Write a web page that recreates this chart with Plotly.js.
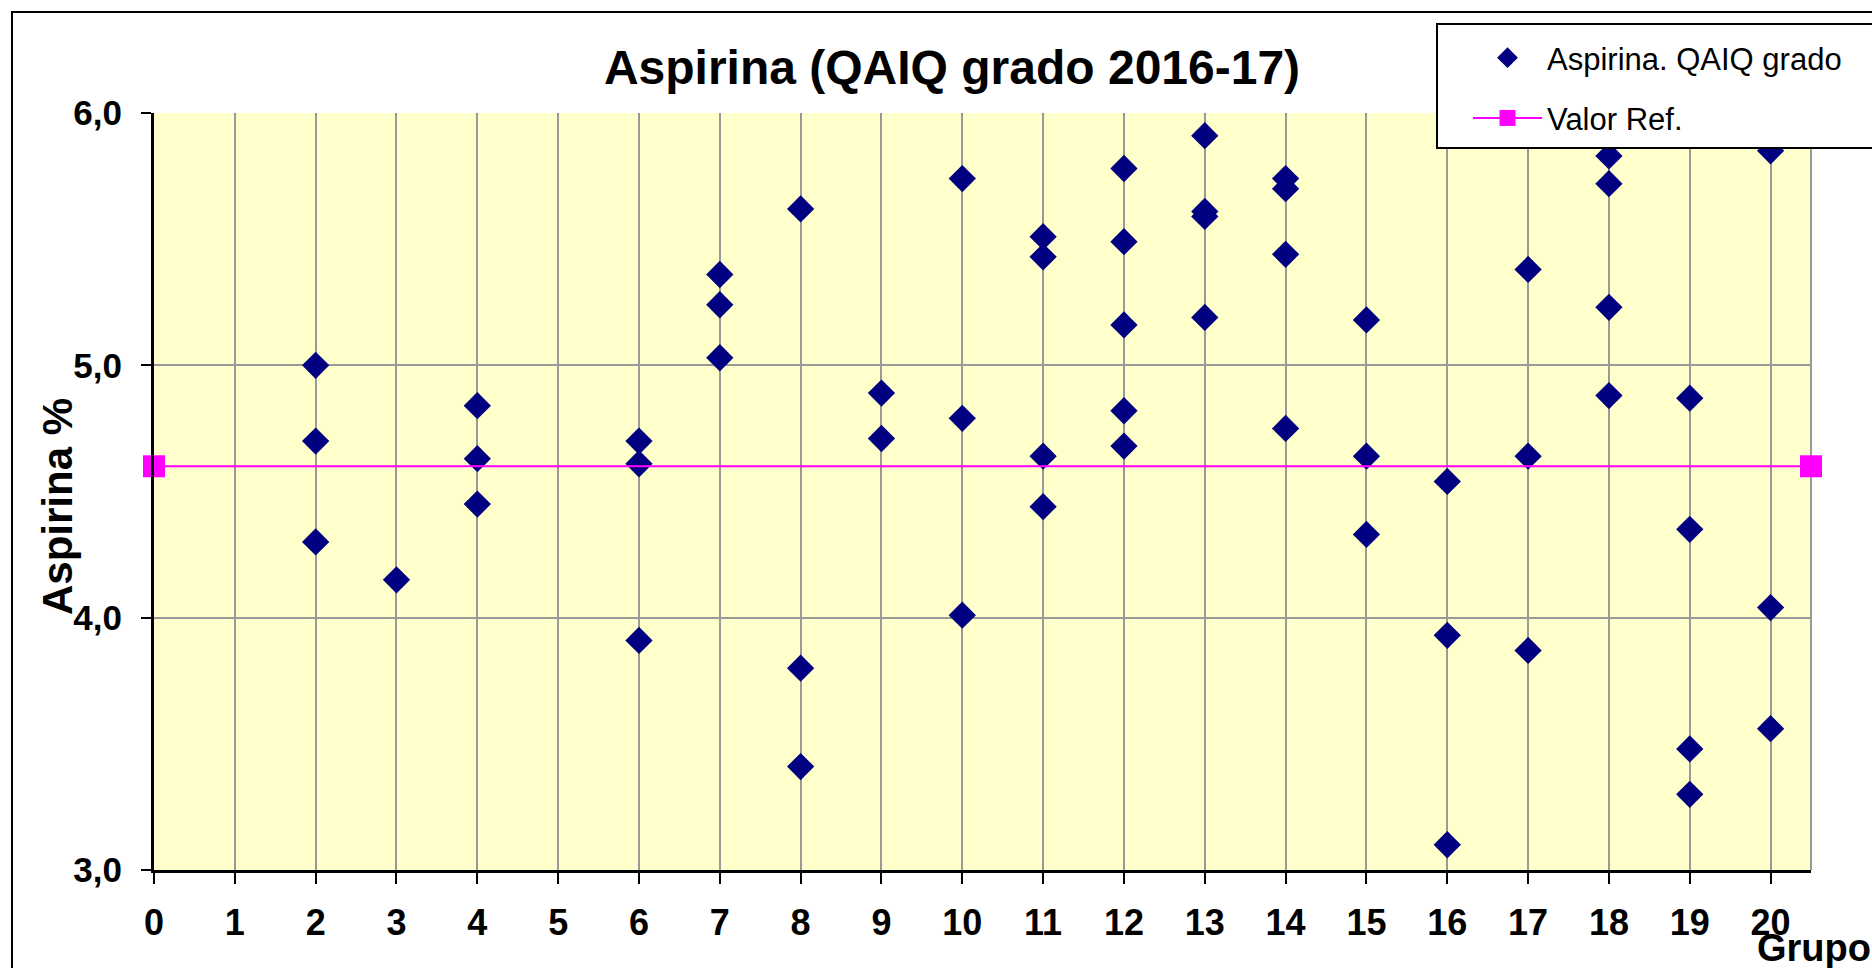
<!DOCTYPE html>
<html>
<head>
<meta charset="utf-8">
<script src="https://cdn.plot.ly/plotly-3.0.1.min.js"></script>
<style>
  html, body { margin: 0; padding: 0; background: #ffffff; }
  #chart { width: 1872px; height: 968px; }
</style>
</head>
<body>
<div id="chart"></div>
<script>
// Group number (x) for each laboratory result
var grupo = [
  2, 2, 2,
  3,
  4, 4, 4,
  6, 6, 6,
  7, 7, 7,
  8, 8, 8,
  9, 9,
  10, 10, 10,
  11, 11, 11, 11,
  12, 12, 12, 12, 12,
  13, 13, 13, 13,
  14, 14, 14, 14,
  15, 15, 15,
  16, 16, 16,
  17, 17, 17,
  18, 18, 18, 18,
  19, 19, 19, 19,
  20, 20, 20
];
// Aspirina % result for each point
var aspirina = [
  5.00, 4.70, 4.30,
  4.15,
  4.84, 4.63, 4.45,
  4.70, 4.61, 3.91,
  5.36, 5.24, 5.03,
  5.62, 3.80, 3.41,
  4.89, 4.71,
  5.74, 4.79, 4.01,
  5.51, 5.43, 4.64, 4.44,
  5.78, 5.49, 5.16, 4.82, 4.68,
  5.91, 5.61, 5.59, 5.19,
  5.74, 5.70, 5.44, 4.75,
  5.18, 4.64, 4.33,
  4.54, 3.93, 3.10,
  5.38, 4.64, 3.87,
  5.83, 5.72, 5.23, 4.88,
  4.87, 4.35, 3.48, 3.30,
  5.85, 4.04, 3.56
];
// Reference value line
var refX = [0, 20.5];
var refY = [4.60, 4.60];

var xTicks = [0,1,2,3,4,5,6,7,8,9,10,11,12,13,14,15,16,17,18,19,20];
var yTicks = [3, 4, 5, 6];

var serieNames = ['Aspirina. QAIQ grado', 'Valor Ref.'];
var chartTitle = 'Aspirina (QAIQ grado 2016-17)';
var yTitle = 'Aspirina %';
var xTitle = 'Grupo';

var SANS = 'Liberation Sans, Arial, sans-serif';

var traces = [
  {
    type: 'scatter',
    mode: 'markers',
    name: serieNames[0],
    legendgroup: 'a',
    x: grupo,
    y: aspirina,
    marker: { symbol: 'diamond', size: 21, color: '#000080' },
    hoverinfo: 'x+y'
  },
  {
    type: 'scatter',
    mode: 'lines+markers',
    name: serieNames[1],
    legendgroup: 'b',
    x: refX,
    y: refY,
    line: { color: '#FF00FF', width: 2 },
    marker: { symbol: 'square', size: 22, color: '#FF00FF' },
    cliponaxis: false,
    hoverinfo: 'x+y'
  }
];

var L = 154, R = 61, T = 113, B = 98;
var W = 1872 - L - R, H = 968 - T - B;
function px(xp) { return (xp - L) / W; }
function py(yp) { return (968 - B - yp) / H; }

var layout = {
  width: 1872,
  height: 968,
  margin: { l: L, r: R, t: T, b: B, pad: 0 },
  paper_bgcolor: '#ffffff',
  plot_bgcolor: '#FFFFCC',
  separators: ',.',
  showlegend: true,
  title: {
    text: chartTitle,
    font: { family: SANS, size: 48, weight: 'bold', color: '#000000' },
    x: 952 / 1872,
    xref: 'container',
    xanchor: 'center',
    y: 1 - 67 / 968,
    yref: 'container',
    yanchor: 'middle'
  },
  xaxis: {
    range: [0, 20.5],
    tickmode: 'array',
    tickvals: xTicks,
    ticktext: xTicks.map(String),
    showgrid: true,
    gridcolor: '#999999',
    gridwidth: 2,
    zeroline: false,
    showline: true,
    linecolor: '#000000',
    linewidth: 3,
    ticks: 'outside',
    ticklen: 11,
    tickwidth: 2,
    tickcolor: '#000000',
    ticklabelstandoff: 8,
    tickfont: { family: SANS, size: 36, weight: 'bold', color: '#000000' },
    fixedrange: true
  },
  yaxis: {
    range: [3, 6],
    tickmode: 'array',
    tickvals: yTicks,
    tickformat: '.1f',
    showgrid: true,
    gridcolor: '#999999',
    gridwidth: 2,
    zeroline: false,
    showline: true,
    linecolor: '#000000',
    linewidth: 3,
    ticks: 'outside',
    ticklen: 10,
    tickwidth: 2,
    tickcolor: '#000000',
    ticklabelstandoff: 12,
    tickfont: { family: SANS, size: 35, weight: 'bold', color: '#000000' },
    fixedrange: true
  },
  legend: {
    x: px(1468),
    y: py(31),
    xanchor: 'left',
    yanchor: 'top',
    bgcolor: 'rgba(0,0,0,0)',
    borderwidth: 0,
    font: { family: SANS, size: 31, color: '#000000' },
    itemwidth: 69,
    tracegroupgap: 17
  },
  annotations: [
    {
      text: yTitle,
      xref: 'paper', yref: 'paper',
      x: px(57), y: py(507),
      xanchor: 'center', yanchor: 'middle',
      textangle: -90,
      showarrow: false,
      font: { family: SANS, size: 42, weight: 'bold', color: '#000000' }
    },
    {
      text: xTitle,
      xref: 'paper', yref: 'paper',
      x: px(1755), y: py(925),
      xanchor: 'left', yanchor: 'top',
      showarrow: false,
      font: { family: SANS, size: 38, weight: 'bold', color: '#000000' }
    }
  ],
  shapes: [
    {
      type: 'line', xref: 'paper', yref: 'paper',
      x0: 1, x1: 1, y0: 0, y1: 1,
      line: { color: '#999999', width: 2 },
      layer: 'between'
    },
    {
      type: 'rect', xref: 'paper', yref: 'paper',
      x0: px(1437), x1: px(1900), y0: py(148), y1: py(24),
      line: { color: '#000000', width: 2 },
      fillcolor: '#ffffff',
      layer: 'above'
    },
    {
      type: 'rect', xref: 'paper', yref: 'paper',
      x0: px(12), x1: px(1900), y0: py(1000), y1: py(12),
      line: { color: '#000000', width: 2 },
      fillcolor: 'rgba(0,0,0,0)',
      layer: 'above'
    }
  ]
};

Plotly.newPlot('chart', traces, layout, { displayModeBar: false, responsive: false });
</script>
</body>
</html>
